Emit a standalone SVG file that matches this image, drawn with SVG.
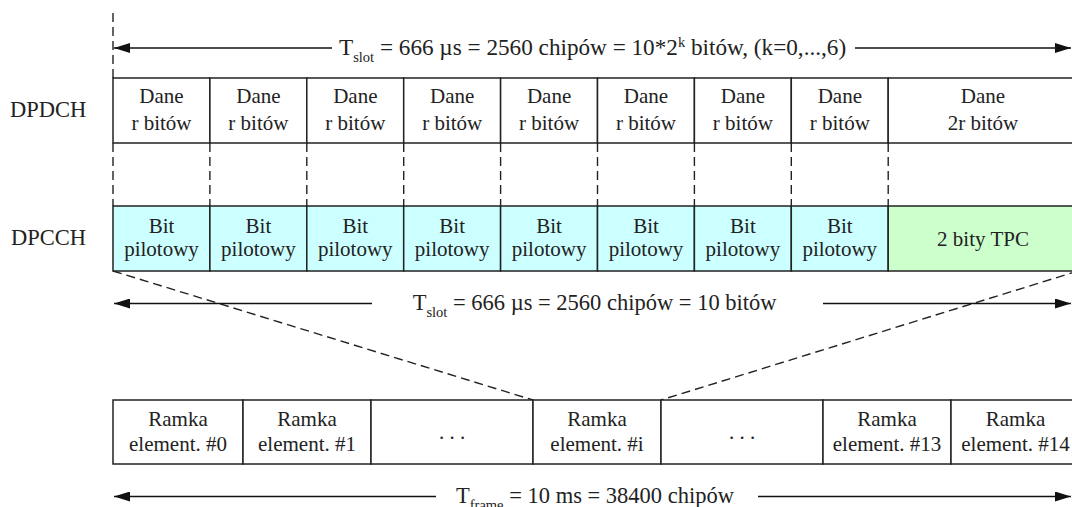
<svg xmlns="http://www.w3.org/2000/svg" width="1072" height="507" viewBox="0 0 1072 507">
<style>
text{font-family:"Liberation Serif","Times New Roman",serif;fill:#222}
.c{font-size:21px;text-anchor:middle}
.lbl{font-size:22.5px}
.dim{font-size:22.5px}
.dimt{font-size:23.2px}
.sub{font-size:14.5px}
.box{stroke:#222;stroke-width:1.5}
.w{fill:#fff}
.cy{fill:#ccffff}
.gr{fill:#ccffcc}
.ln{stroke:#111;stroke-width:1.4;fill:none}
.da{stroke:#222;stroke-width:1.4;stroke-dasharray:9,5;fill:none}
</style>
<defs>
<marker id="ah" viewBox="0 0 16 10" refX="16" refY="5" markerWidth="16" markerHeight="10" markerUnits="userSpaceOnUse" orient="auto-start-reverse">
<path d="M0,0 L16,5 L0,10 z" fill="#111"/>
</marker>
</defs>
<rect width="1072" height="507" fill="#fff"/>

<g id="connectors">
<line class="da" x1="113" y1="13" x2="113" y2="78"/>
<line class="da" x1="113" y1="143" x2="113" y2="206"/>
<line class="da" x1="209.9" y1="143" x2="209.9" y2="206"/>
<line class="da" x1="306.8" y1="143" x2="306.8" y2="206"/>
<line class="da" x1="403.7" y1="143" x2="403.7" y2="206"/>
<line class="da" x1="500.6" y1="143" x2="500.6" y2="206"/>
<line class="da" x1="597.5" y1="143" x2="597.5" y2="206"/>
<line class="da" x1="694.4" y1="143" x2="694.4" y2="206"/>
<line class="da" x1="791.3" y1="143" x2="791.3" y2="206"/>
<line class="da" x1="888.2" y1="143" x2="888.2" y2="206"/>
<line class="da" x1="113" y1="271" x2="533" y2="400"/>
<line class="da" x1="1078" y1="271" x2="661" y2="400"/>
<line class="ln" x1="332" y1="48" x2="114" y2="48" marker-end="url(#ah)"/>
<line class="ln" x1="855" y1="48" x2="1071" y2="48" marker-end="url(#ah)"/>
<line class="ln" x1="372" y1="303.5" x2="114" y2="303.5" marker-end="url(#ah)"/>
<line class="ln" x1="823" y1="303.5" x2="1071" y2="303.5" marker-end="url(#ah)"/>
<line class="ln" x1="436" y1="496.5" x2="114" y2="496.5" marker-end="url(#ah)"/>
<line class="ln" x1="758" y1="496.5" x2="1071" y2="496.5" marker-end="url(#ah)"/>
</g>

<g id="dim-top"><text class="dimt" x="339" y="55">T<tspan class="sub" dy="7">slot</tspan><tspan dy="-7"> = 666 µs = 2560 chipów = 10*2</tspan><tspan class="sub" dy="-8">k</tspan><tspan dy="8"> bitów, (k=0,...,6)</tspan></text></g>
<g id="dim-mid"><text class="dim" x="412.7" y="309.5">T<tspan class="sub" dy="7.5">slot</tspan><tspan dy="-7.5"> = 666 µs = 2560 chipów = 10 bitów</tspan></text></g>
<g id="dim-bot"><text class="dim" x="456" y="502.5">T<tspan class="sub" dy="7">frame</tspan><tspan dy="-7"> = 10 ms = 38400 chipów</tspan></text></g>

<g id="label-dpdch"><text class="lbl" x="10" y="117">DPDCH</text></g>
<g id="label-dpcch"><text class="lbl" x="11" y="245">DPCCH</text></g>

<g id="dpdch-0"><rect class="box w" x="113" y="78" width="96.9" height="65"/><text class="c" x="161.5" y="103">Dane</text><text class="c" x="161.5" y="129.5">r bitów</text></g>
<g id="dpdch-1"><rect class="box w" x="209.9" y="78" width="96.9" height="65"/><text class="c" x="258.4" y="103">Dane</text><text class="c" x="258.4" y="129.5">r bitów</text></g>
<g id="dpdch-2"><rect class="box w" x="306.8" y="78" width="96.9" height="65"/><text class="c" x="355.3" y="103">Dane</text><text class="c" x="355.3" y="129.5">r bitów</text></g>
<g id="dpdch-3"><rect class="box w" x="403.7" y="78" width="96.9" height="65"/><text class="c" x="452.2" y="103">Dane</text><text class="c" x="452.2" y="129.5">r bitów</text></g>
<g id="dpdch-4"><rect class="box w" x="500.6" y="78" width="96.9" height="65"/><text class="c" x="549.1" y="103">Dane</text><text class="c" x="549.1" y="129.5">r bitów</text></g>
<g id="dpdch-5"><rect class="box w" x="597.5" y="78" width="96.9" height="65"/><text class="c" x="646" y="103">Dane</text><text class="c" x="646" y="129.5">r bitów</text></g>
<g id="dpdch-6"><rect class="box w" x="694.4" y="78" width="96.9" height="65"/><text class="c" x="742.9" y="103">Dane</text><text class="c" x="742.9" y="129.5">r bitów</text></g>
<g id="dpdch-7"><rect class="box w" x="791.3" y="78" width="96.9" height="65"/><text class="c" x="839.8" y="103">Dane</text><text class="c" x="839.8" y="129.5">r bitów</text></g>
<g id="dpdch-8"><rect class="box w" x="888.2" y="78" width="190" height="65"/><text class="c" x="983" y="103">Dane</text><text class="c" x="983" y="129.5">2r bitów</text></g>

<g id="dpcch-0"><rect class="box cy" x="113" y="206" width="96.9" height="65"/><text class="c" x="161.5" y="233">Bit</text><text class="c" x="161.5" y="256">pilotowy</text></g>
<g id="dpcch-1"><rect class="box cy" x="209.9" y="206" width="96.9" height="65"/><text class="c" x="258.4" y="233">Bit</text><text class="c" x="258.4" y="256">pilotowy</text></g>
<g id="dpcch-2"><rect class="box cy" x="306.8" y="206" width="96.9" height="65"/><text class="c" x="355.3" y="233">Bit</text><text class="c" x="355.3" y="256">pilotowy</text></g>
<g id="dpcch-3"><rect class="box cy" x="403.7" y="206" width="96.9" height="65"/><text class="c" x="452.2" y="233">Bit</text><text class="c" x="452.2" y="256">pilotowy</text></g>
<g id="dpcch-4"><rect class="box cy" x="500.6" y="206" width="96.9" height="65"/><text class="c" x="549.1" y="233">Bit</text><text class="c" x="549.1" y="256">pilotowy</text></g>
<g id="dpcch-5"><rect class="box cy" x="597.5" y="206" width="96.9" height="65"/><text class="c" x="646" y="233">Bit</text><text class="c" x="646" y="256">pilotowy</text></g>
<g id="dpcch-6"><rect class="box cy" x="694.4" y="206" width="96.9" height="65"/><text class="c" x="742.9" y="233">Bit</text><text class="c" x="742.9" y="256">pilotowy</text></g>
<g id="dpcch-7"><rect class="box cy" x="791.3" y="206" width="96.9" height="65"/><text class="c" x="839.8" y="233">Bit</text><text class="c" x="839.8" y="256">pilotowy</text></g>
<g id="dpcch-8"><rect class="box gr" x="888.2" y="206" width="190" height="65"/><text class="c" x="983" y="245.5">2 bity TPC</text></g>

<g id="frame-0"><rect class="box w" x="113" y="400" width="130" height="64"/><text class="c" x="178" y="426">Ramka</text><text class="c" x="178" y="451">element. #0</text></g>
<g id="frame-1"><rect class="box w" x="243" y="400" width="128" height="64"/><text class="c" x="307" y="426">Ramka</text><text class="c" x="307" y="451">element. #1</text></g>
<g id="frame-dots1"><rect class="box w" x="371" y="400" width="162" height="64"/><text class="c" x="452" y="439">. . .</text></g>
<g id="frame-i"><rect class="box w" x="533" y="400" width="128" height="64"/><text class="c" x="597" y="426">Ramka</text><text class="c" x="597" y="451">element. #i</text></g>
<g id="frame-dots2"><rect class="box w" x="661" y="400" width="162" height="64"/><text class="c" x="742" y="439">. . .</text></g>
<g id="frame-13"><rect class="box w" x="823" y="400" width="128" height="64"/><text class="c" x="887" y="426">Ramka</text><text class="c" x="887" y="451">element. #13</text></g>
<g id="frame-14"><rect class="box w" x="951" y="400" width="129" height="64"/><text class="c" x="1015.5" y="426">Ramka</text><text class="c" x="1015.5" y="451">element. #14</text></g>
</svg>
